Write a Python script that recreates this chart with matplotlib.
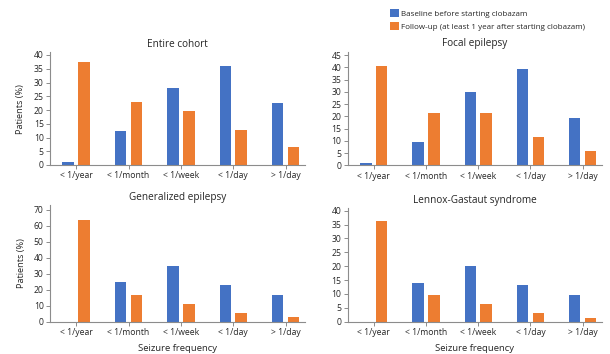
import numpy as np
import matplotlib
matplotlib.use("Agg")
import matplotlib.pyplot as plt

plt.rcParams["font.family"] = ["Open Sans", "DejaVu Sans"]

categories = ["< 1/year", "< 1/month", "< 1/week", "< 1/day", "> 1/day"]

titles = ["Entire cohort", "Focal epilepsy", "Generalized epilepsy", "Lennox-Gastaut syndrome"]

baseline = [
    [1.0, 12.3, 27.9, 36.1, 22.4],
    [1.1, 9.6, 30.0, 39.5, 19.2],
    [0.0, 24.8, 34.7, 23.1, 16.5],
    [0.0, 14.1, 19.9, 13.2, 9.5],
]
followup = [
    [37.6, 23.0, 19.7, 12.7, 6.5],
    [40.5, 21.2, 21.2, 11.4, 5.7],
    [63.9, 16.5, 11.0, 5.3, 2.7],
    [36.4, 9.5, 6.2, 3.0, 1.5],
]

yticks = [np.arange(0, 41, 5), np.arange(0, 46, 5), np.arange(0, 71, 10), np.arange(0, 41, 5)]
ytops = [41, 46.3, 73, 40.8]

blue = "#4472C4"
orange = "#ED7D31"
grey = "#8c8c8c"
text_col = "#262626"

W, H = 610, 354
fig = plt.figure(figsize=(W / 100, H / 100), dpi=100)

# pixel boxes: left, right, bottom (y of zero line)
boxes = [(50, 305, 165.0), (347.7, 602, 165.3), (50, 305, 321.7), (347.7, 602, 321.7)]
px_per_unit = [2.75, 2.45, 1.596, 2.775]

x = np.arange(len(categories))
bw = 0.22
off = 0.152
axes = []
for i in range(4):
    l, r, b = boxes[i]
    top = b - ytops[i] * px_per_unit[i]
    ax = fig.add_axes([l / W, 1 - b / H, (r - l) / W, (b - top) / H])
    axes.append(ax)
    ax.bar(x - off, baseline[i], width=bw, color=blue,
           label="Baseline before starting clobazam")
    ax.bar(x + off, followup[i], width=bw, color=orange,
           label="Follow-up (at least 1 year after starting clobazam)")
    ax.set_xlim(-0.5, 4.37)
    ax.set_ylim(0, ytops[i])
    ax.set_yticks(yticks[i])
    ax.set_xticks(x)
    ax.set_xticklabels(categories)
    for s in ["top", "right"]:
        ax.spines[s].set_visible(False)
    for s in ["left", "bottom"]:
        ax.spines[s].set_color(grey)
        ax.spines[s].set_linewidth(0.8)
    ax.tick_params(axis="both", colors=grey, labelcolor=text_col, labelsize=6.2,
                   length=3, width=0.7, pad=1.5)
    ax.set_title(titles[i], fontsize=7.2, color=text_col, pad=4)
    if i % 2 == 0:
        ax.set_ylabel("Patients (%)", fontsize=6.6, color=text_col, labelpad=6)
    if i >= 2:
        ax.set_xlabel("Seizure frequency", fontsize=6.8, color=text_col, labelpad=5)

handles, labels = axes[0].get_legend_handles_labels()
fig.legend(handles, labels, loc="upper left", bbox_to_anchor=(390 / W, 1 - 9 / H),
           frameon=False, fontsize=5.8, handlelength=1.1, handleheight=1.1,
           handletextpad=0.25, labelspacing=0.55, borderpad=0, borderaxespad=0,
           labelcolor=text_col)

fig.savefig("out.png", dpi=100)
